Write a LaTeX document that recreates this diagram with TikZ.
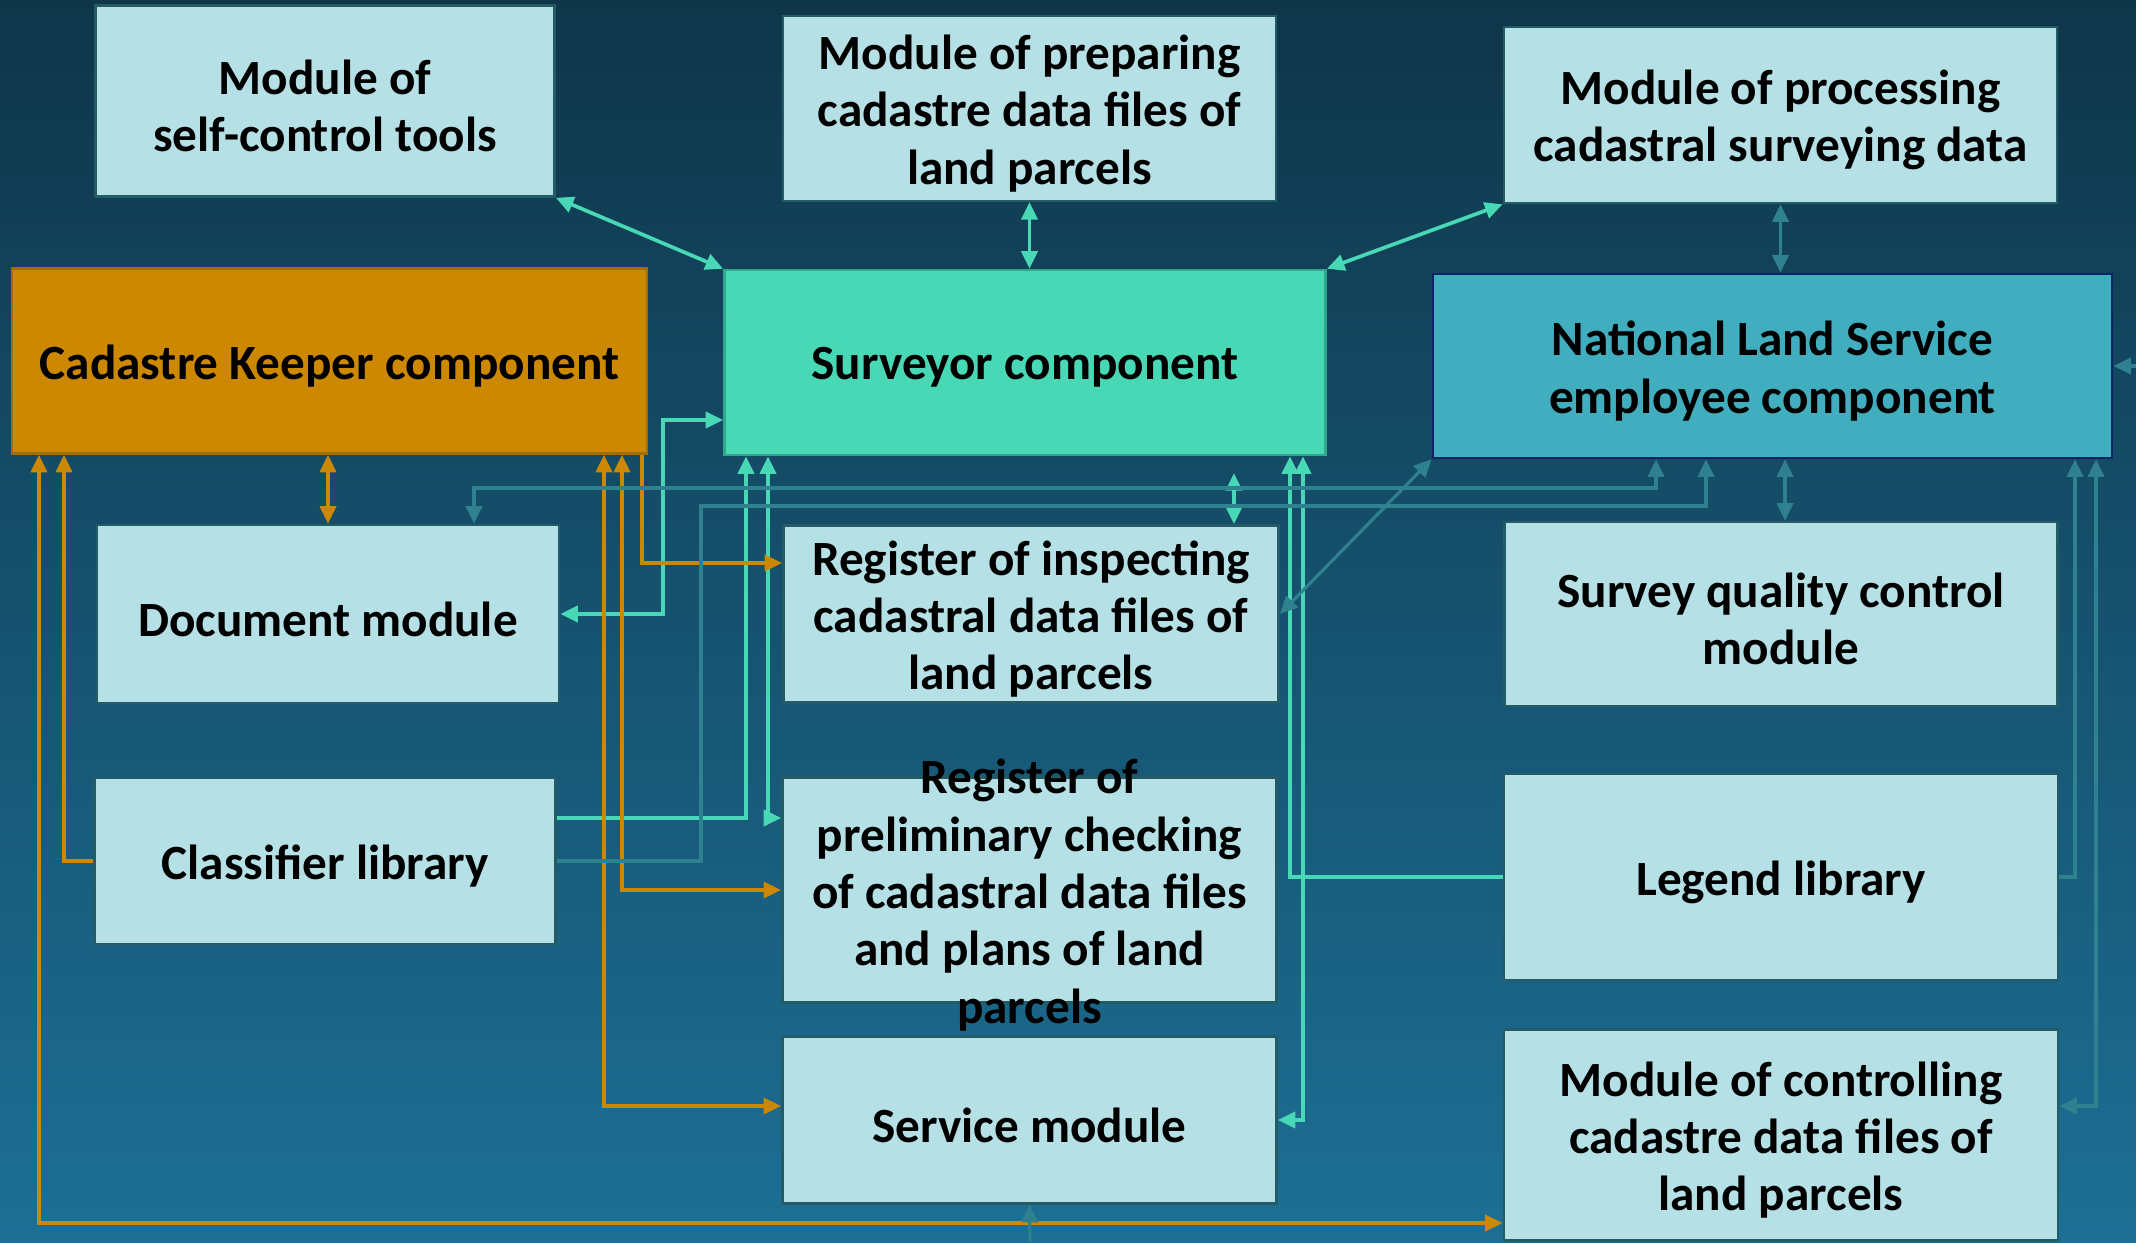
\documentclass[tikz,border=0pt]{standalone}
\usepackage{fontspec}
\setmainfont{Carlito}
\usetikzlibrary{arrows.meta}
\definecolor{bgtop}{HTML}{0F3549}
\definecolor{bgbot}{HTML}{1D6F95}
\definecolor{lightbox}{HTML}{B5E0E5}
\definecolor{lightedge}{HTML}{245C66}
\definecolor{keeperfill}{HTML}{CC8800}
\definecolor{keeperedge}{HTML}{A36D00}
\definecolor{survfill}{HTML}{48D8B5}
\definecolor{survedge}{HTML}{2FA88B}
\definecolor{nlsfill}{HTML}{40AEBE}
\definecolor{nlsedge}{HTML}{0A2466}
\definecolor{tqcol}{HTML}{48D8B5}
\definecolor{orcol}{HTML}{CC8800}
\definecolor{tlcol}{HTML}{2F8190}
\tikzset{
  boxbase/.style={rectangle, inner sep=0pt, line width=0.7pt},
  lbox/.style={boxbase, fill=lightbox, draw=lightedge},
  kbox/.style={boxbase, fill=keeperfill, draw=keeperedge},
  sbox/.style={boxbase, fill=survfill, draw=survedge},
  nbox/.style={boxbase, fill=nlsfill, draw=nlsedge},
  txt/.style={align=center, inner sep=0pt, yshift=-0.05cm,
    font=\bfseries\fontsize{14}{16.3}\selectfont, text=black},
  tq/.style={draw=tqcol, line width=1.05pt},
  org/.style={draw=orcol, line width=0.9pt},
  tl/.style={draw=tlcol, line width=0.9pt},
  >={Triangle[length=5pt,width=4.6pt]}
}
\begin{document}
\begin{tikzpicture}[x=0.01cm, y=-0.01cm]
\useasboundingbox (0,0) rectangle (2136,1242);
\shade[top color=bgtop, bottom color=bgbot] (0,0) rectangle (2136,1242);

% boxes
\node[lbox, minimum width=4.59cm, minimum height=1.91cm] (selfc) at (325,101) {};
\node[lbox, minimum width=4.93cm, minimum height=1.85cm] (prep) at (1029.5,108.3) {};
\node[lbox, minimum width=5.53cm, minimum height=1.76cm] (proc) at (1780.5,115) {};
\node[kbox, minimum width=6.35cm, minimum height=1.85cm] (keeper) at (329.5,361) {};
\node[sbox, minimum width=6.01cm, minimum height=1.85cm] (surv) at (1025,362.5) {};
\node[nbox, minimum width=6.79cm, minimum height=1.84cm] (nls) at (1772.5,366) {};
\node[lbox, minimum width=4.62cm, minimum height=1.78cm] (doc) at (328,614) {};
\node[lbox, minimum width=4.95cm, minimum height=1.77cm] (reginsp) at (1031,614) {};
\node[lbox, minimum width=5.53cm, minimum height=1.84cm] (sqc) at (1781,614) {};
\node[lbox, minimum width=4.61cm, minimum height=1.66cm] (classif) at (325,861) {};
\node[lbox, minimum width=4.94cm, minimum height=2.25cm] (regprel) at (1029.5,890) {};
\node[lbox, minimum width=5.54cm, minimum height=2.06cm] (legend) at (1781,877) {};
\node[lbox, minimum width=4.94cm, minimum height=1.67cm] (service) at (1029.5,1120) {};
\node[lbox, minimum width=5.54cm, minimum height=2.11cm] (mctl) at (1781,1135) {};

% texts
\node[txt] (selfc-t) at (selfc.center) {Module of\\self-control tools};
\node[txt] (prep-t) at (prep.center) {Module of preparing\\cadastre data files of\\land parcels};
\node[txt] (proc-t) at (proc.center) {Module of processing\\cadastral surveying data};
\node[txt] (keeper-t) at (keeper.center) {Cadastre Keeper component};
\node[txt] (surv-t) at (surv.center) {Surveyor component};
\node[txt] (nls-t) at (nls.center) {National Land Service\\employee component};
\node[txt] (doc-t) at (doc.center) {Document module};
\node[txt] (reginsp-t) at (reginsp.center) {Register of inspecting\\cadastral data files of\\land parcels};
\node[txt] (sqc-t) at (sqc.center) {Survey quality control\\module};
\node[txt] (classif-t) at (classif.center) {Classifier library};
\node[txt] (regprel-t) at (regprel.center) {Register of\\preliminary checking\\of cadastral data files\\and plans of land\\parcels};
\node[txt] (legend-t) at (legend.center) {Legend library};
\node[txt] (service-t) at (service.center) {Service module};
\node[txt] (mctl-t) at (mctl.center) {Module of controlling\\cadastre data files of\\land parcels};

\coordinate (ishort) at (1234,473);
\coordinate (rin) at (2136,366);
\coordinate (bin) at (1030,1242);

% turquoise connectors
\draw[tq,<->] (selfc.south east) -- (surv.north west);
\draw[tq,<->] (prep.south) -- (surv.north -| prep.south);
\draw[tq,<->] (surv.north east) -- (proc.south west);
\draw[tq,<->] (doc.east) -| (663,420) -- (surv.west |- 0,420);
\draw[tq,->] (classif.east |- 0,818) -| (surv.south -| 746,0);
\draw[tq,<->] (surv.south -| 768,0) |- (regprel.west |- 0,818);
\draw[tq,->] (legend.west) -| (surv.south -| 1290,0);
\draw[tq,<->] (surv.south -| 1303,0) |- (service.east);
\draw[tq,<->] (reginsp.north -| ishort) -- (ishort);

% orange connectors
\draw[org,<->] (doc.north |- keeper.south) -- (doc.north);
\draw[org,->] (keeper.south -| 642,0) |- (reginsp.west |- 0,563);
\draw[org,<->] (keeper.south -| 622,0) |- (regprel.west);
\draw[org,<->] (keeper.south -| 604,0) |- (service.west |- 0,1106);
\draw[org,->] (classif.west) -| (keeper.south -| 64,0);
\draw[org,<->] (keeper.south -| 39,0) |- (mctl.west |- 0,1223);

% teal connectors
\draw[tl,<->] (nls.south west) -- (reginsp.east);
\draw[tl,<->] (nls.south -| 1656,0) |- (474,488) -- (doc.north -| 474,0);
\draw[tl,->] (classif.east) -| (701,506) -| (nls.south -| 1706,0);
\draw[tl,<->] (nls.south -| 1785,0) -- (sqc.north -| 1785,0);
\draw[tl,<->] (proc.south) -- (nls.north -| proc.south);
\draw[tl,->] (legend.east) -| (nls.south -| 2075,0);
\draw[tl,<->] (nls.south -| 2096,0) |- (mctl.east |- 0,1106);
\draw[tl,->] (rin) -- (nls.east);
\draw[tl,->] (bin) -- (service.south);
\end{tikzpicture}
\end{document}
